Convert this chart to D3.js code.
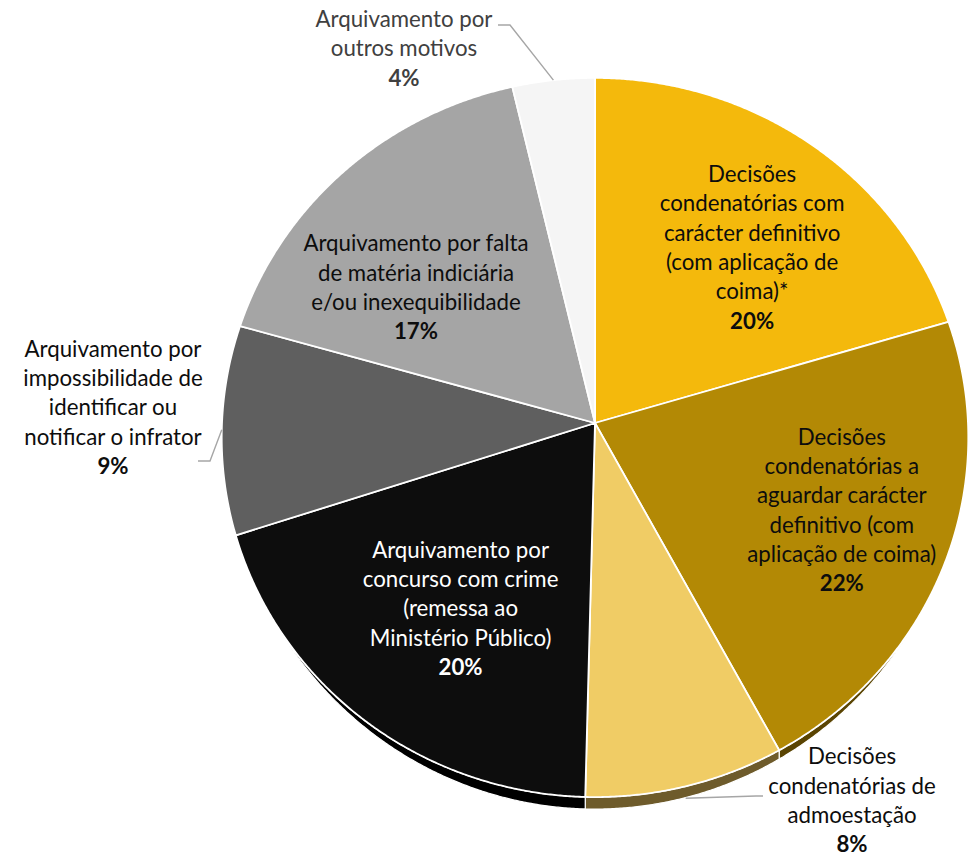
<!DOCTYPE html>
<html>
<head>
<meta charset="utf-8">
<script src="https://cdn.jsdelivr.net/npm/d3@7"></script>
<style>
  body { margin: 0; background: #fff; }
  svg { display: block; }
  text { font-family: Lato, 'Noto Sans', sans-serif; }
</style>
</head>
<body>
<svg id="chart" width="977" height="857"></svg>
<script>
// ── DATA ───────────────────────────────────────────────────────────────────
const categories = [
  'Decisões condenatórias com carácter definitivo (com aplicação de coima)*',
  'Decisões condenatórias a aguardar carácter definitivo (com aplicação de coima)',
  'Decisões condenatórias de admoestação',
  'Arquivamento por concurso com crime (remessa ao Ministério Público)',
  'Arquivamento por impossibilidade de identificar ou notificar o infrator',
  'Arquivamento por falta de matéria indiciária e/ou inexequibilidade',
  'Arquivamento por outros motivos'
];
const values = [20.4, 21.7, 8.3, 19.6, 9.4, 16.9, 3.7];
const percentLabels = ['20%', '22%', '8%', '20%', '9%', '17%', '4%'];
const labelLines = [
  ['Decisões', 'condenatórias com', 'carácter definitivo', '(com aplicação de', 'coima)*'],
  ['Decisões', 'condenatórias a', 'aguardar carácter', 'definitivo (com', 'aplicação de coima)'],
  ['Decisões', 'condenatórias de', 'admoestação'],
  ['Arquivamento por', 'concurso com crime', '(remessa ao', 'Ministério Público)'],
  ['Arquivamento por', 'impossibilidade de', 'identificar ou', 'notificar o infrator'],
  ['Arquivamento por falta', 'de matéria indiciária', 'e/ou inexequibilidade'],
  ['Arquivamento por', 'outros motivos']
];

// ── STYLE ──────────────────────────────────────────────────────────────────
const topColors  = ['#F4B90C', '#B38905', '#F0CC65', '#0D0D0D', '#5F5F5F', '#A5A5A5', '#F5F5F5'];
const sideColors = ['#7A5C06', '#5A4402', '#6E5B2B', '#000000', '#2F2F2F', '#555555', '#8A8A8A'];
const textColors = ['#0D0D0D', '#0D0D0D', '#0D0D0D', '#FFFFFF', '#0D0D0D', '#0D0D0D', '#404040'];

// ── GEOMETRY (slightly tilted disc, perspective) ──────────────────────────
const cx = 595, cy = 423, RX = 373, RY = 359, TAU = 0.0403, DEPTH = 12;

function proj(a, r) {
  const u = r * Math.sin(a), v = -r * Math.cos(a);
  const f = 1 / (1 - v * TAU);
  return [cx + RX * u * f, cy + RY * v * f];
}
function sideH(a) {
  return DEPTH * Math.max(0, (-Math.cos(a) - 0.54) / 0.46);
}

const pie = d3.pie().sort(null).value(d => d)(values);
const svg = d3.select('#chart');

function arcPoints(a0, a1) {
  const n = Math.max(2, Math.ceil((a1 - a0) / 0.005));
  return d3.range(n + 1).map(i => a0 + (a1 - a0) * i / n);
}

function topPath(d) {
  const p = d3.path();
  p.moveTo(cx, cy);
  arcPoints(d.startAngle, d.endAngle).forEach(a => { const [x, y] = proj(a, 1); p.lineTo(x, y); });
  p.closePath();
  return p.toString();
}

function sidePath(d) {
  const pts = arcPoints(d.startAngle, d.endAngle).filter(a => sideH(a) > 0);
  if (pts.length < 2) return null;
  const p = d3.path();
  pts.forEach((a, i) => { const [x, y] = proj(a, 1); i ? p.lineTo(x, y) : p.moveTo(x, y); });
  pts.slice().reverse().forEach(a => { const [x, y] = proj(a, 1); p.lineTo(x, y + sideH(a)); });
  p.closePath();
  return p.toString();
}

// sides first, then the top faces
svg.append('g').selectAll('path')
  .data(pie.filter(d => sidePath(d)))
  .join('path')
  .attr('d', sidePath)
  .attr('fill', d => sideColors[d.index])
  .attr('stroke', '#fff')
  .attr('stroke-width', 1.2)
  .attr('stroke-linejoin', 'round');

svg.append('g').selectAll('path')
  .data(pie)
  .join('path')
  .attr('d', topPath)
  .attr('fill', d => topColors[d.index])
  .attr('stroke', '#fff')
  .attr('stroke-width', 1.8)
  .attr('stroke-linejoin', 'round');

// ── LABELS ─────────────────────────────────────────────────────────────────
// font size fitted so that "Arquivamento por" is ~177px wide (Calibri 18pt look)
const probe = svg.append('text').attr('font-size', 24).text('Arquivamento por');
const FS = 24 * 177 / probe.node().getComputedTextLength();
probe.remove();
const LH = 29.3;

// inside labels sit near the slice centroid; small nudges tidy them up
const inside = [0, 1, 3, 5];
const insideNudge = { 0: [13, 11], 1: [17, -4], 3: [16, -8], 5: [-12, 33] };
// outside labels: block centre and leader elbow
const outside = {
  2: { at: [852, 801], elbow: [756, 796], end: [763, 796], drop: 12 },
  4: { at: [113, 408], elbow: [210, 461], end: [198, 461], drop: 0 },
  6: { at: [404, 49],  elbow: [510, 25],  end: [498, 25],  drop: 0 }
};

function labelBlock(i, x, yc) {
  const lines = labelLines[i].concat([percentLabels[i]]);
  const y0 = yc - (lines.length - 1) * LH / 2 + FS * 0.33;
  const t = svg.append('text')
    .attr('text-anchor', 'middle')
    .attr('font-size', FS)
    .attr('fill', textColors[i]);
  lines.forEach((s, k) => {
    t.append('tspan')
      .attr('x', x)
      .attr('y', y0 + k * LH)
      .attr('font-weight', k === lines.length - 1 ? 700 : 400)
      .text(s);
  });
}

inside.forEach(i => {
  const d = pie[i];
  const [x, y] = proj((d.startAngle + d.endAngle) / 2, 0.66);
  labelBlock(i, x + insideNudge[i][0], y + insideNudge[i][1]);
});

Object.keys(outside).forEach(k => {
  const i = +k, o = outside[k], d = pie[i];
  const [sx, sy] = proj((d.startAngle + d.endAngle) / 2, 1);
  svg.append('polyline')
    .attr('points', [[sx, sy + o.drop], o.elbow, o.end].map(p => p.join(',')).join(' '))
    .attr('fill', 'none')
    .attr('stroke', '#A6A6A6')
    .attr('stroke-width', 1.4);
  labelBlock(i, o.at[0], o.at[1]);
});
</script>
</body>
</html>
